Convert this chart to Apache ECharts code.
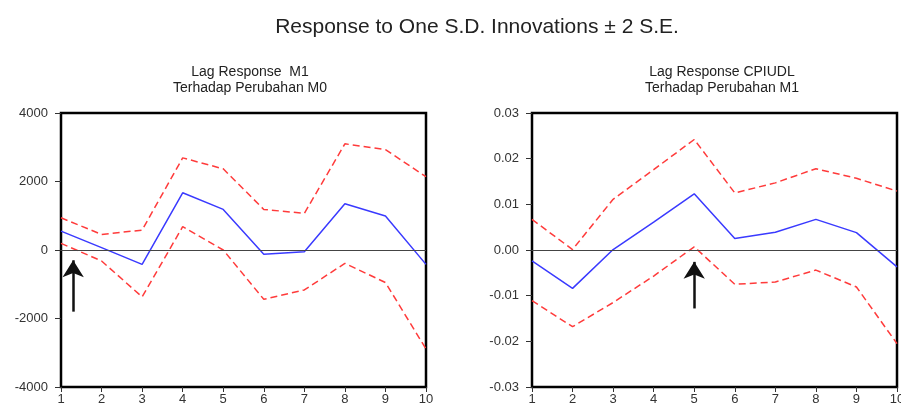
<!DOCTYPE html>
<html><head><meta charset="utf-8">
<script src="https://cdn.jsdelivr.net/npm/echarts@6/dist/echarts.min.js"></script>
<style>html,body{margin:0;padding:0;background:#fff}#c{width:901px;height:412px}</style>
</head><body><div id="c"></div>
<script>
const periods = [1,2,3,4,5,6,7,8,9,10];
// Left panel: M1 response to M0
const leftResp  = [550, 70, -420, 1670, 1185, -125, -50, 1350, 990, -420];
const leftUpper = [940, 455, 580, 2690, 2370, 1185, 1070, 3100, 2930, 2140];
const leftLower = [195, -320, -1370, 680, 0, -1440, -1165, -390, -950, -2890];
// Right panel: CPIUDL response to M1
const rightResp  = [-0.0024, -0.0084, 0.0001, 0.0061, 0.0123, 0.0025, 0.0039, 0.0067, 0.0038, -0.0037];
const rightUpper = [0.0067, 0.0001, 0.0111, 0.0176, 0.0242, 0.0125, 0.0147, 0.0178, 0.0157, 0.0129];
const rightLower = [-0.0111, -0.0168, -0.0115, -0.0057, 0.0007, -0.0075, -0.0070, -0.0044, -0.0081, -0.0205];
const leftTicks = [-4000, -2000, 0, 2000, 4000];
const rightTicks = [-0.03, -0.02, -0.01, 0.00, 0.01, 0.02, 0.03];
// arrow annotations [x, yStart, yEnd]
const leftArrow = [1.3, -1800, -300];
const rightArrow = [5, -0.0128, -0.0026];

const FONT = 'Liberation Sans, Arial, sans-serif';
const pairs = p => periods.map((x,i)=>[x,p[i]]);

function xAxis(idx){
  return {type:'value', gridIndex:idx, min:1, max:10, interval:1,
    axisLine:{show:true, onZero:false, lineStyle:{color:'#000', width:2}},
    axisTick:{show:true, length:5, lineStyle:{color:'#333'}},
    axisLabel:{color:'#333', fontFamily:FONT, fontSize:13, margin:6},
    splitLine:{show:false}};
}
function yAxis(idx, min, max, interval, fmt){
  return {type:'value', gridIndex:idx, min:min, max:max, interval:interval,
    axisLine:{show:true, onZero:false, lineStyle:{color:'#000', width:2}},
    axisTick:{show:true, length:6, lineStyle:{color:'#333'}},
    axisLabel:{color:'#333', fontFamily:FONT, fontSize:13, margin:13, formatter:fmt},
    splitLine:{show:false}};
}
function line(idx, data, color, dashed, extra){
  return Object.assign({type:'line', xAxisIndex:idx, yAxisIndex:idx, data:pairs(data),
    symbol:'none', silent:true, animation:false,
    lineStyle:{color:color, width:1.5, type: dashed ? [7,4] : 'solid'}}, extra||{});
}
function marks(arrow){
  return {markLine:{silent:true, animation:false, symbol:['none','none'], label:{show:false},
    data:[
      [{coord:[1,0], lineStyle:{color:'#444', width:1, type:'solid'}},{coord:[10,0]}],
      [{coord:[arrow[0],arrow[1]], symbol:'none', lineStyle:{color:'#111', width:2.5, type:'solid'}},
       {coord:[arrow[0],arrow[2]], symbol:'arrow', symbolSize:[16,17]}]
    ]}};
}

const chart = echarts.init(document.getElementById('c'), null, {renderer:'canvas'});
chart.setOption({
  animation:false,
  backgroundColor:'#fff',
  title:[
    {text:'Response to One S.D. Innovations ± 2 S.E.', left:472, top:12, textAlign:'center',
     textStyle:{fontFamily:FONT, fontSize:21, fontWeight:'normal', color:'#222'}},
    {text:'Lag Response  M1\nTerhadap Perubahan M0', left:245, top:59, textAlign:'center',
     textStyle:{fontFamily:FONT, fontSize:14, fontWeight:'normal', color:'#222', lineHeight:16}},
    {text:'Lag Response CPIUDL\nTerhadap Perubahan M1', left:717, top:59, textAlign:'center',
     textStyle:{fontFamily:FONT, fontSize:14, fontWeight:'normal', color:'#222', lineHeight:16}}
  ],
  grid:[
    {left:61, top:113, width:365, height:274, show:true, borderColor:'#000', borderWidth:2.5, outerBoundsMode:'none', containLabel:false},
    {left:532, top:113, width:365, height:274, show:true, borderColor:'#000', borderWidth:2.5, outerBoundsMode:'none', containLabel:false}
  ],
  xAxis:[xAxis(0), xAxis(1)],
  yAxis:[
    yAxis(0, leftTicks[0], leftTicks[leftTicks.length-1], 2000, v=>String(v)),
    yAxis(1, rightTicks[0], rightTicks[rightTicks.length-1], 0.01, v=>v.toFixed(2))
  ],
  series:[
    line(0, leftUpper, '#ff3b3b', true),
    line(0, leftLower, '#ff3b3b', true),
    line(0, leftResp, '#3a3aff', false, marks(leftArrow)),
    line(1, rightUpper, '#ff3b3b', true),
    line(1, rightLower, '#ff3b3b', true),
    line(1, rightResp, '#3a3aff', false, marks(rightArrow))
  ]
});
</script></body></html>
